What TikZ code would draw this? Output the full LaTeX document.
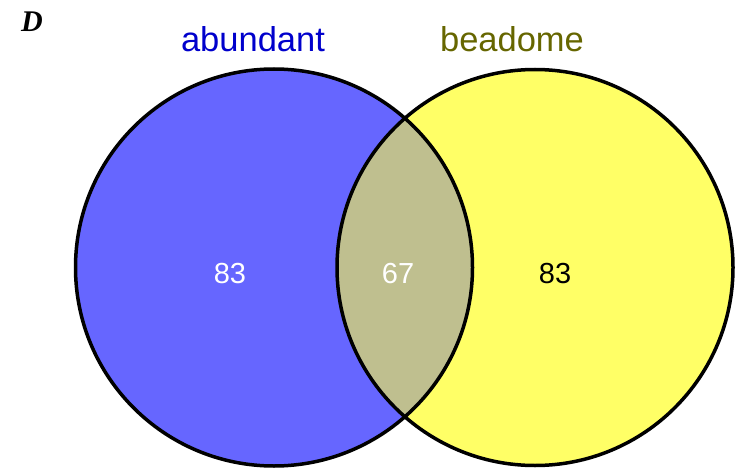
\documentclass[tikz,border=0pt]{standalone}
\usepackage{fontspec}
\setmainfont{Liberation Sans}
\newfontfamily\serifbi{Liberation Serif}
\definecolor{leftfill}{RGB}{102,102,255}
\definecolor{rightfill}{RGB}{255,255,102}
\definecolor{midfill}{RGB}{191,191,143}
\definecolor{abcol}{RGB}{0,0,204}
\definecolor{becol}{RGB}{102,102,0}
\begin{document}
\begin{tikzpicture}[x=1pt,y=-1pt,
  setlabel/.style={anchor=base,inner sep=0pt,font=\fontsize{34.5}{37}\selectfont},
  count/.style={anchor=base,inner sep=0pt,font=\fontsize{29}{32}\selectfont},
  ring/.style={line width=3.5pt,draw=black}]
\useasboundingbox (0,0) rectangle (741,476);
\coordinate (cl) at (274,267.5);
\coordinate (cr) at (535,267.5);
\fill[leftfill] (cl) circle[radius=198.5pt];
\fill[rightfill] (cr) circle[radius=198pt];
\begin{scope}
  \clip (cl) circle[radius=198.5pt];
  \fill[midfill] (cr) circle[radius=198pt];
\end{scope}
\draw[ring] (cl) circle[radius=198.5pt];
\draw[ring] (cr) circle[radius=198pt];
\node[anchor=base,inner sep=0pt,font=\serifbi\fontsize{30}{32}\selectfont\bfseries\itshape] (panel) at (32,32) {D};
\node[setlabel,text=abcol] (labA) at (253,52) {abundant};
\node[setlabel,text=becol] (labB) at (512,52) {beadome};
\node[count,text=white] (nA) at (230,283) {83};
\node[count,text=white] (nAB) at (398,283) {67};
\node[count,text=black] (nB) at (555,283) {83};
\end{tikzpicture}
\end{document}
